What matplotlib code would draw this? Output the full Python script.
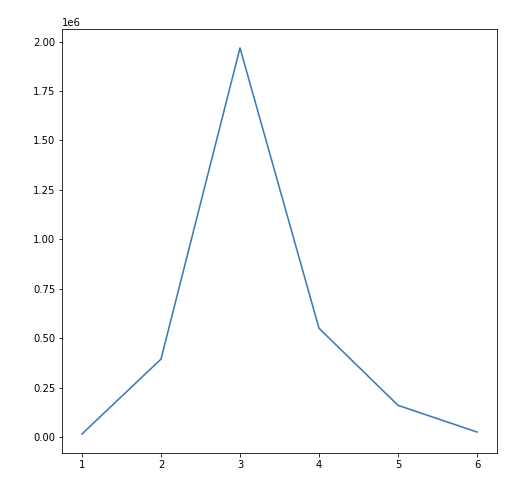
import matplotlib
matplotlib.use('Agg')
import matplotlib.pyplot as plt

x_vals = [1, 2, 3, 4, 5, 6]
y_vals = [15000, 394000, 1968000, 550000, 160000, 25000]

fig = plt.figure(figsize=(531 / 72, 487 / 72), dpi=72)
ax = fig.add_axes([0.1172, 0.0692, 0.8183, 0.872])
ax.plot(x_vals, y_vals, color='#3f7ab8', linewidth=1.6)
ax.set_xticks(x_vals)
ax.tick_params(labelsize=10)

fig.savefig('out.png', dpi=72)
